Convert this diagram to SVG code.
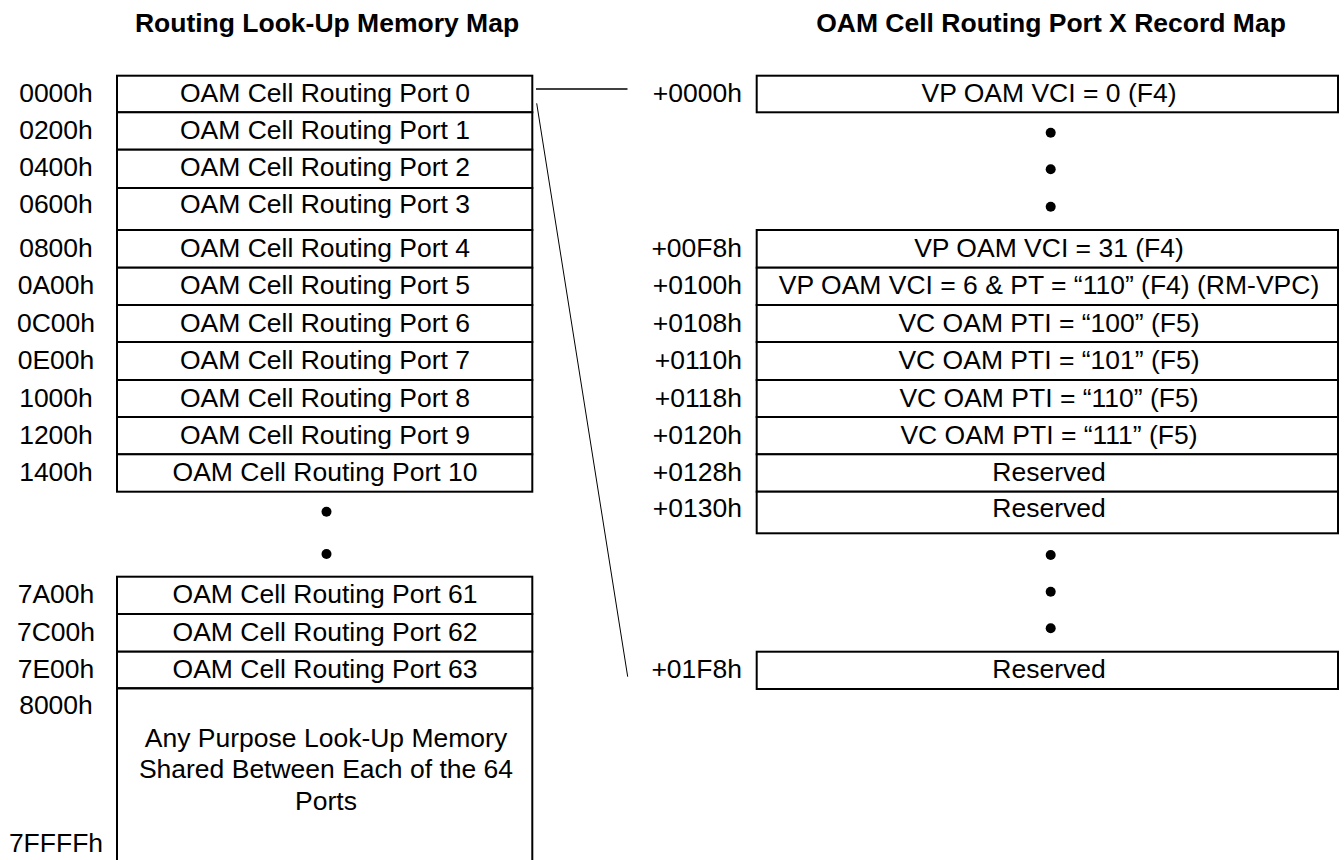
<svg xmlns="http://www.w3.org/2000/svg" width="1344" height="860" viewBox="0 0 1344 860">
<style>
  .bg{fill:#ffffff}
  .cell{fill:#ffffff;stroke:#000000;stroke-width:2}
  .edge{fill:none;stroke:#000000;stroke-width:2}
  .t{font-family:"Liberation Sans",Arial,sans-serif;font-size:26.5px;fill:#000000}
  .c{text-anchor:middle}
  .e{text-anchor:end}
  .title{font-family:"Liberation Sans",Arial,sans-serif;font-size:26.5px;font-weight:bold;fill:#000000;text-anchor:middle}
  .dot{fill:#000000}
  .conn{fill:none;stroke:#000000}
</style>
<rect class="bg" x="0" y="0" width="1344" height="860"/>

<g id="titles">
  <text class="title" x="327" y="31.7">Routing Look-Up Memory Map</text>
  <text class="title" x="1051" y="31.7">OAM Cell Routing Port X Record Map</text>
</g>

<!-- Left: Routing Look-Up Memory Map -->
<g id="port0"><rect class="cell" x="117" y="75.7" width="415.3" height="36.6"/><text class="t c" x="56" y="102.2">0000h</text><text class="t c" x="325" y="102.2">OAM Cell Routing Port 0</text></g>
<g id="port1"><rect class="cell" x="117" y="112.3" width="415.3" height="37.4"/><text class="t c" x="56" y="138.8">0200h</text><text class="t c" x="325" y="138.8">OAM Cell Routing Port 1</text></g>
<g id="port2"><rect class="cell" x="117" y="149.7" width="415.3" height="38.3"/><text class="t c" x="56" y="176.2">0400h</text><text class="t c" x="325" y="176.2">OAM Cell Routing Port 2</text></g>
<g id="port3"><rect class="cell" x="117" y="188" width="415.3" height="42"/><text class="t c" x="56" y="213">0600h</text><text class="t c" x="325" y="213">OAM Cell Routing Port 3</text></g>
<g id="port4"><rect class="cell" x="117" y="230" width="415.3" height="37.7"/><text class="t c" x="56" y="256.5">0800h</text><text class="t c" x="325" y="256.5">OAM Cell Routing Port 4</text></g>
<g id="port5"><rect class="cell" x="117" y="267.7" width="415.3" height="37.3"/><text class="t c" x="56" y="294.2">0A00h</text><text class="t c" x="325" y="294.2">OAM Cell Routing Port 5</text></g>
<g id="port6"><rect class="cell" x="117" y="305" width="415.3" height="37"/><text class="t c" x="56" y="331.5">0C00h</text><text class="t c" x="325" y="331.5">OAM Cell Routing Port 6</text></g>
<g id="port7"><rect class="cell" x="117" y="342" width="415.3" height="38"/><text class="t c" x="56" y="368.5">0E00h</text><text class="t c" x="325" y="368.5">OAM Cell Routing Port 7</text></g>
<g id="port8"><rect class="cell" x="117" y="380" width="415.3" height="37"/><text class="t c" x="56" y="406.5">1000h</text><text class="t c" x="325" y="406.5">OAM Cell Routing Port 8</text></g>
<g id="port9"><rect class="cell" x="117" y="417" width="415.3" height="37.3"/><text class="t c" x="56" y="443.5">1200h</text><text class="t c" x="325" y="443.5">OAM Cell Routing Port 9</text></g>
<g id="port10"><rect class="cell" x="117" y="454.3" width="415.3" height="37.4"/><text class="t c" x="56" y="480.8">1400h</text><text class="t c" x="325" y="480.8">OAM Cell Routing Port 10</text></g>
<g id="left-ellipsis"><circle class="dot" cx="326.5" cy="511.7" r="5"/><circle class="dot" cx="326.5" cy="554" r="5"/></g>
<g id="port61"><rect class="cell" x="117" y="576.7" width="415.3" height="37.3"/><text class="t c" x="56" y="603.2">7A00h</text><text class="t c" x="325" y="603.2">OAM Cell Routing Port 61</text></g>
<g id="port62"><rect class="cell" x="117" y="614" width="415.3" height="37.7"/><text class="t c" x="56" y="640.5">7C00h</text><text class="t c" x="325" y="640.5">OAM Cell Routing Port 62</text></g>
<g id="port63"><rect class="cell" x="117" y="651.7" width="415.3" height="36.6"/><text class="t c" x="56" y="678.2">7E00h</text><text class="t c" x="325" y="678.2">OAM Cell Routing Port 63</text></g>
<g id="shared">
  <path class="edge" d="M117,864 V688.3 H532.3 V864"/>
  <text class="t c" x="56" y="714.3">8000h</text>
  <text class="t c" x="56" y="851.7">7FFFFh</text>
  <text class="t c" x="326" y="746.7">Any Purpose Look-Up Memory</text>
  <text class="t c" x="326" y="778.2">Shared Between Each of the 64</text>
  <text class="t c" x="326" y="809.7">Ports</text>
</g>

<!-- Right: OAM Cell Routing Port X Record Map -->
<g id="rec0000"><rect class="cell" x="756.7" y="75.7" width="581.3" height="36.6"/><text class="t e" x="742" y="102">+0000h</text><text class="t c" x="1049" y="102">VP OAM VCI = 0 (F4)</text></g>
<g id="right-ellipsis-1"><circle class="dot" cx="1050.7" cy="132.7" r="5"/><circle class="dot" cx="1050.7" cy="169.3" r="5"/><circle class="dot" cx="1050.7" cy="206.7" r="5"/></g>
<g id="rec00F8"><rect class="cell" x="756.7" y="230" width="581.3" height="37.7"/><text class="t e" x="742" y="256.5">+00F8h</text><text class="t c" x="1049" y="256.5">VP OAM VCI = 31 (F4)</text></g>
<g id="rec0100"><rect class="cell" x="756.7" y="267.7" width="581.3" height="37.3"/><text class="t e" x="742" y="294.2">+0100h</text><text class="t c" x="1049" y="294.2">VP OAM VCI = 6 &amp; PT = “110” (F4) (RM-VPC)</text></g>
<g id="rec0108"><rect class="cell" x="756.7" y="305" width="581.3" height="37"/><text class="t e" x="742" y="331.5">+0108h</text><text class="t c" x="1049" y="331.5">VC OAM PTI = “100” (F5)</text></g>
<g id="rec0110"><rect class="cell" x="756.7" y="342" width="581.3" height="38"/><text class="t e" x="742" y="368.5">+0110h</text><text class="t c" x="1049" y="368.5">VC OAM PTI = “101” (F5)</text></g>
<g id="rec0118"><rect class="cell" x="756.7" y="380" width="581.3" height="37"/><text class="t e" x="742" y="406.5">+0118h</text><text class="t c" x="1049" y="406.5">VC OAM PTI = “110” (F5)</text></g>
<g id="rec0120"><rect class="cell" x="756.7" y="417" width="581.3" height="37.3"/><text class="t e" x="742" y="443.5">+0120h</text><text class="t c" x="1049" y="443.5">VC OAM PTI = “111” (F5)</text></g>
<g id="rec0128"><rect class="cell" x="756.7" y="454.3" width="581.3" height="37.4"/><text class="t e" x="742" y="480.8">+0128h</text><text class="t c" x="1049" y="480.8">Reserved</text></g>
<g id="rec0130"><rect class="cell" x="756.7" y="491.7" width="581.3" height="41.6"/><text class="t e" x="742" y="517">+0130h</text><text class="t c" x="1049" y="517">Reserved</text></g>
<g id="right-ellipsis-2"><circle class="dot" cx="1050.7" cy="555" r="5"/><circle class="dot" cx="1050.7" cy="591.7" r="5"/><circle class="dot" cx="1050.7" cy="628.3" r="5"/></g>
<g id="rec01F8"><rect class="cell" x="756.7" y="651.7" width="581.3" height="37.3"/><text class="t e" x="742" y="678.2">+01F8h</text><text class="t c" x="1049" y="678.2">Reserved</text></g>

<g id="connectors">
  <line class="conn" x1="536" y1="89" x2="627.5" y2="89" stroke-width="1.6"/>
  <line class="conn" x1="536.7" y1="103.3" x2="627.7" y2="676.7" stroke-width="1"/>
</g>
</svg>
